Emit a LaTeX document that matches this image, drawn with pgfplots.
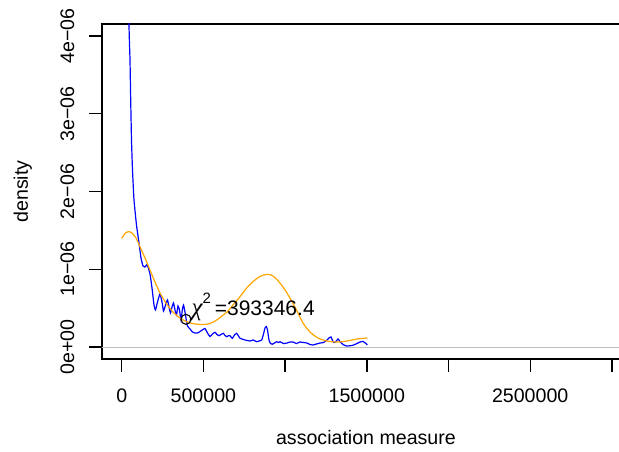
\documentclass[border=0pt]{standalone}
\usepackage{pgfplots}
\pgfplotsset{compat=1.18}
\usepackage{fontspec}
\setmainfont{Liberation Sans}
\newfontfamily\greekfont{Liberation Serif}
\newcommand\rf{\fontsize{19.6bp}{23bp}\selectfont}
\definecolor{rblue}{HTML}{0000FF}
\definecolor{rorange}{HTML}{FFA500}
\definecolor{rgray}{HTML}{BEBEBE}
\begin{document}
\begin{tikzpicture}
\path[use as bounding box] (0,0) rectangle (619bp,452bp);
\clip (0,0) rectangle (619bp,452bp);
\begin{axis}[
  at={(102bp,93bp)}, anchor=south west,
  scale only axis, width=532bp, height=335bp,
  xmin=-120564, xmax=3135276, ymin=-0.1543, ymax=4.1543,
  axis line style={line width=1.4bp},
  tick style={line width=1.4bp, black},
  tick align=outside, major tick length=12.5bp,
  tick pos=left,
  scaled x ticks=false, scaled y ticks=false,
  xtick={0,500000,1000000,1500000,2000000,2500000,3000000},
  xticklabels={0,500000,,1500000,,2500000,},
  ytick={0,1,2,3,4},
  yticklabels={0e+00,1e−06,2e−06,3e−06,4e−06},
  ticklabel style={font=\rf},
  yticklabel style={rotate=90, anchor=south, inner sep=0pt},
  xticklabel style={anchor=north, inner sep=0pt},
  yticklabel shift=15bp,
  xticklabel shift=17bp,
  xlabel={association measure}, ylabel={density},
  label style={font=\rf},
  xlabel style={at={(axis description cs:0.4962,-0.2567)}, anchor=base},
  ylabel style={at={(axis description cs:-0.1391,0.5)}, anchor=base},
]
\addplot[rblue, line width=1.2bp, smooth, tension=0.3] coordinates {
(37332,5.749) (44676,4.154) (50796,3.691) (55080,3.177) (59976,2.662) (66096,2.277)
(75276,1.891) (90576,1.569) (105876,1.338) (118116,1.145) (130356,1.042) (142596,1.029)
(151776,1.055) (160956,1.029) (173196,0.939) (185436,0.759) (197676,0.540) (206856,0.476)
(219096,0.579) (234396,0.682) (246636,0.579) (255816,0.463) (268056,0.540) (280296,0.605)
(289476,0.514) (298656,0.437) (307836,0.514) (317016,0.566) (326196,0.476) (335376,0.412)
(344556,0.527) (353736,0.476) (362916,0.347) (370872,0.476) (378216,0.540) (387396,0.450)
(395352,0.347) (402696,0.270) (417996,0.232) (433296,0.193) (448596,0.180) (463896,0.180)
(479196,0.199) (497556,0.225) (509796,0.238) (525096,0.180) (540396,0.135) (555696,0.167)
(570996,0.189) (583236,0.161) (595476,0.145) (607716,0.161) (621792,0.176) (632196,0.148)
(642600,0.132) (653616,0.145) (662796,0.145) (676872,0.112) (690336,0.154) (703800,0.176)
(714816,0.141) (723996,0.112) (754596,0.090) (785196,0.077) (805392,0.090) (826200,0.068)
(840276,0.077) (856800,0.090) (867816,0.167) (876996,0.244) (884952,0.264) (892296,0.219)
(901476,0.090) (910656,0.045) (921672,0.035) (935136,0.051) (948600,0.068) (959616,0.058)
(968796,0.068) (990216,0.045) (1011636,0.051) (1029996,0.064) (1048356,0.064) (1069776,0.045)
(1091196,0.064) (1112616,0.058) (1134036,0.051) (1152396,0.032) (1170756,0.026) (1192176,0.039)
(1213596,0.051) (1235016,0.058) (1256436,0.090) (1271736,0.122) (1280916,0.129) (1290096,0.084)
(1299276,0.058) (1311516,0.071) (1323756,0.103) (1335996,0.071) (1354356,0.032) (1375776,0.013)
(1409436,0.019) (1433916,0.039) (1458396,0.064) (1476756,0.071) (1495116,0.045) (1503072,0.026)
};
\addplot[rgray, line width=1bp] coordinates {(-200000,0) (3300000,0)};
\addplot[rorange, line width=1.2bp, smooth, tension=0.5] coordinates {
(0,1.398) (14076,1.441) (26316,1.473) (40392,1.483) (53856,1.479) (69156,1.453)
(87516,1.402) (111996,1.290) (142596,1.145) (173196,0.990) (203796,0.836) (234396,0.695)
(271116,0.566) (313956,0.450) (356796,0.373) (397800,0.325) (448596,0.296) (497556,0.289)
(540396,0.302) (581400,0.347) (613836,0.399) (644436,0.450) (681156,0.540) (723996,0.647)
(765000,0.759) (803556,0.842) (846396,0.907) (887400,0.935) (913716,0.926) (944316,0.881)
(987156,0.772) (1029996,0.630) (1069776,0.476) (1109556,0.309) (1152396,0.193) (1201356,0.116)
(1256436,0.077) (1317636,0.064) (1378836,0.077) (1440036,0.103) (1503072,0.116)
};
\addplot[only marks, mark=o, mark size=5bp, black, mark options={line width=1.1bp}] coordinates {(393346.4,0.356)};
\node[anchor=base west, inner sep=0pt, font=\fontsize{21bp}{24bp}\selectfont] at (axis cs:426000,0.405) {{\greekfont\fontsize{25bp}{28bp}\selectfont\itshape χ}\raisebox{12bp}{\fontsize{15bp}{17bp}\selectfont 2}\hspace{4bp}=393346.4};
\end{axis}
\end{tikzpicture}
\end{document}
